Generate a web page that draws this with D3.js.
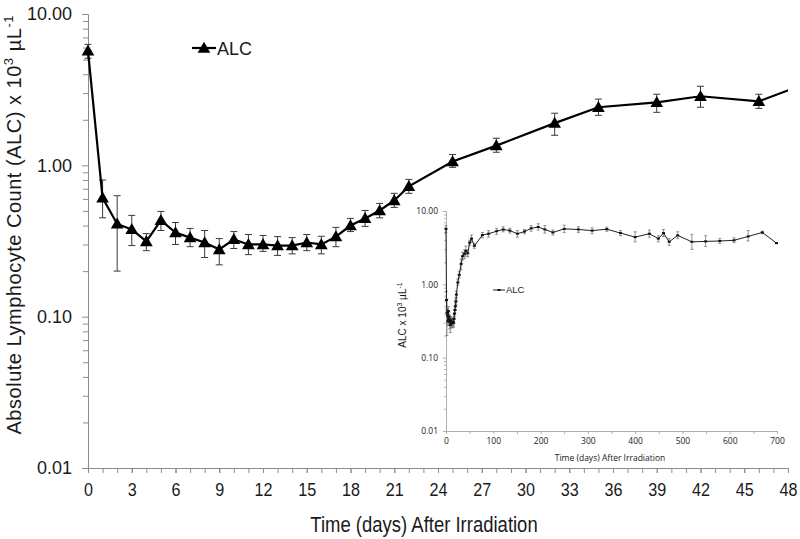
<!DOCTYPE html>
<html><head><meta charset="utf-8">
<script src="https://cdn.jsdelivr.net/npm/d3@7"></script>
<style>
body{margin:0;background:#fff;}
svg{display:block;}
</style></head>
<body>
<svg id="c" width="800" height="539"></svg>
<script>
// ---- data (days after irradiation, ALC x10^3/uL) ----
const days  = [0,1,2,3,4,5,6,7,8,9,10,11,12,13,14,15,16,17,18,19,20,21,22,25,28,32,35,39,42,46,
               50,54,60,77,90,107,121,135,151,166,180,195,209,226,250,280,309,340,369,400,430,449,460,472,490,520,549,579,609,639,669,699];
const alc   = [5.7,0.61,0.41,0.377,0.314,0.433,0.36,0.333,0.309,0.278,0.324,0.30,0.30,0.295,0.295,0.309,0.30,0.338,0.40,0.446,0.503,0.586,0.726,1.06,1.35,1.90,2.42,2.61,2.86,2.65,
               3.7,4.2,3.35,4.7,4.9,5.3,5.6,5.4,4.9,5.25,5.8,6.05,5.6,5.1,5.7,5.6,5.4,5.65,5.0,4.4,4.9,4.2,5.0,3.8,4.65,3.8,3.85,3.9,3.98,4.5,5.1,3.65];
const alcLo = [5.1,0.45,0.20,0.295,0.273,0.371,0.30,0.29,0.246,0.22,0.282,0.257,0.27,0.254,0.26,0.273,0.26,0.29,0.365,0.395,0.45,0.527,0.653,0.97,1.22,1.58,2.14,2.24,2.42,2.38,
               3.4,3.8,3.1,4.3,4.4,4.8,5.2,5.0,4.4,4.9,5.3,5.5,5.0,4.7,5.1,5.1,4.9,5.3,4.6,3.8,4.4,3.8,4.5,3.4,4.2,3.0,3.3,3.6,3.7,3.9,4.9,3.6];
const alcHi = [6.3,0.80,0.63,0.467,0.354,0.496,0.419,0.383,0.371,0.328,0.365,0.349,0.344,0.338,0.333,0.349,0.34,0.389,0.446,0.503,0.56,0.653,0.808,1.18,1.51,2.21,2.74,2.95,3.33,2.95,
               4.0,4.7,3.6,5.1,5.4,5.8,6.1,5.8,5.4,5.6,6.3,6.7,6.3,5.5,6.4,6.1,5.9,6.0,5.4,5.2,5.5,4.6,5.6,4.2,5.2,4.8,4.6,4.2,4.3,5.4,5.3,3.7];
const yTicks = [0.01,0.1,1,10];
const mainXTicks = [0,3,6,9,12,15,18,21,24,27,30,33,36,39,42,45,48];
const insetXTicks = [0,100,200,300,400,500,600,700];

const data = days.map((d,i)=>({d, v:alc[i], lo:alcLo[i], hi:alcHi[i]}));
const svg = d3.select('#c');
const axisCol = '#8c8c8c';
const txtCol = '#1a1a1a';
const sans = '"Liberation Sans",Arial,sans-serif';

function minorTicks(){
  const out=[]; yTicks.slice(0,-1).forEach(t=>{for(let k=2;k<=9;k++) out.push(t*k);}); return out;
}

// ===== MAIN CHART =====
const x = d3.scaleLinear().domain([0,48]).range([88,788]);
const y = d3.scaleLog().domain([0.01,10]).range([468,14]);

svg.append('defs').append('clipPath').attr('id','mclip')
  .append('rect').attr('x',80).attr('y',0).attr('width',708).attr('height',470);

const gy = svg.append('g').attr('transform','translate(88,0)')
  .call(d3.axisLeft(y).tickValues(yTicks).tickFormat(d3.format('.2f')).tickSize(6).tickPadding(10));
svg.append('g').attr('transform','translate(88,0)')
  .call(d3.axisLeft(y).tickValues(minorTicks()).tickFormat('').tickSize(5))
  .call(g=>g.select('.domain').remove());
svg.append('g').attr('transform','translate(0,468)')
  .call(d3.axisBottom(x).tickValues(d3.range(0,49)).tickFormat('').tickSize(5));
const gx = svg.append('g').attr('transform','translate(0,468)')
  .call(d3.axisBottom(x).tickValues(mainXTicks).tickFormat(d3.format('d')).tickSize(5).tickPadding(10))
  .call(g=>g.select('.domain').remove());
gx.selectAll('text').attr('font-family',sans).attr('font-size',19).attr('transform','scale(0.85,1)');
svg.selectAll('.domain, .tick line').attr('stroke',axisCol);
gy.selectAll('text').attr('font-family',sans).attr('font-size',18);
svg.selectAll('.tick text').attr('fill',txtCol);

// main axis titles
svg.append('text').attr('transform','translate(424,532) scale(0.86,1)').attr('text-anchor','middle')
  .attr('font-family',sans).attr('font-size',21.5).attr('fill',txtCol)
  .text('Time (days) After Irradiation');
const yl = svg.append('text').attr('transform','translate(21,225) rotate(-90)').attr('text-anchor','middle')
  .attr('font-family',sans).attr('font-size',20).attr('fill',txtCol)
  .attr('textLength',419).attr('lengthAdjust','spacing');
yl.append('tspan').text('Absolute Lymphocyte Count (ALC) x 10');
yl.append('tspan').attr('dy',-8).attr('font-size',13).text('3');
yl.append('tspan').attr('dy',8).text(' µL');
yl.append('tspan').attr('dy',-8).attr('font-size',13).text('-1');

const plot = svg.append('g').attr('clip-path','url(#mclip)');
// error bars
const eb = plot.append('g').attr('stroke','#3a3a3a').attr('stroke-width',1);
data.forEach(p=>{
  const cx=x(p.d);
  eb.append('line').attr('x1',cx).attr('x2',cx).attr('y1',y(p.lo)).attr('y2',y(p.hi));
  eb.append('line').attr('x1',cx-3.5).attr('x2',cx+3.5).attr('y1',y(p.lo)).attr('y2',y(p.lo));
  eb.append('line').attr('x1',cx-3.5).attr('x2',cx+3.5).attr('y1',y(p.hi)).attr('y2',y(p.hi));
});
plot.append('path').datum(data).attr('fill','none').attr('stroke','#000').attr('stroke-width',2.2)
  .attr('d',d3.line().x(p=>x(p.d)).y(p=>y(p.v)));
const tri = d3.symbol().type(d3.symbolTriangle).size(70);
plot.selectAll('.m').data(data).enter().append('path')
  .attr('d',tri).attr('transform',p=>`translate(${x(p.d)},${y(p.v)+1})`).attr('fill','#000');

// legend
svg.append('line').attr('x1',192).attr('x2',216).attr('y1',48).attr('y2',48).attr('stroke','#000').attr('stroke-width',2.2);
svg.append('path').attr('d',tri).attr('transform','translate(204,49)').attr('fill','#000');
svg.append('text').attr('x',217).attr('y',55).attr('font-family',sans)
  .attr('font-size',18).attr('fill',txtCol).text('ALC');

// ===== INSET =====
const xi = d3.scaleLinear().domain([0,700]).range([446,777]);
const yi = d3.scaleLog().domain([0.01,10]).range([431,211]);
const insetFont = '"Open Sans","Liberation Sans",sans-serif';
const iy = svg.append('g').attr('transform','translate(446,0)')
  .call(d3.axisLeft(yi).tickValues(yTicks).tickFormat(d3.format('.2f')).tickSize(3).tickPadding(5));
svg.append('g').attr('transform','translate(446,0)')
  .call(d3.axisLeft(yi).tickValues(minorTicks()).tickFormat('').tickSize(2))
  .call(g=>g.select('.domain').remove()).selectAll('line').attr('stroke','#b5b5b5');
const ix = svg.append('g').attr('transform','translate(0,431)')
  .call(d3.axisBottom(xi).tickValues(d3.range(0,701,50)).tickFormat(d=>insetXTicks.includes(d)?d:'').tickSize(3).tickPadding(4));
[iy,ix].forEach(g=>{
  g.selectAll('.domain,.tick line').attr('stroke','#b0b0b0');
  g.selectAll('text').attr('font-family',insetFont).attr('font-size',8.5).attr('fill',txtCol);
});
svg.append('text').attr('x',610).attr('y',461).attr('text-anchor','middle')
  .attr('font-family',insetFont).attr('font-size',8.5).attr('fill',txtCol).text('Time (days) After Irradiation');
const iyl = svg.append('text').attr('transform','translate(406,315) rotate(-90)').attr('text-anchor','middle')
  .attr('font-family',sans).attr('font-size',10).attr('fill',txtCol);
iyl.append('tspan').text('ALC x 10');
iyl.append('tspan').attr('dy',-4).attr('font-size',7).text('3');
iyl.append('tspan').attr('dy',4).text(' µL');
iyl.append('tspan').attr('dy',-4).attr('font-size',7).text('-1');

const ieb = svg.append('g').attr('stroke','#777').attr('stroke-width',0.8);
data.forEach(p=>{
  const cx=xi(p.d);
  ieb.append('line').attr('x1',cx).attr('x2',cx).attr('y1',yi(p.lo)).attr('y2',yi(p.hi));
  ieb.append('line').attr('x1',cx-1.5).attr('x2',cx+1.5).attr('y1',yi(p.lo)).attr('y2',yi(p.lo));
  ieb.append('line').attr('x1',cx-1.5).attr('x2',cx+1.5).attr('y1',yi(p.hi)).attr('y2',yi(p.hi));
});
svg.append('path').datum(data).attr('fill','none').attr('stroke','#222').attr('stroke-width',1)
  .attr('d',d3.line().x(p=>xi(p.d)).y(p=>yi(p.v)));
svg.append('g').selectAll('line').data(data).enter().append('line')
  .attr('x1',p=>xi(p.d)-1.5).attr('x2',p=>xi(p.d)+1.5).attr('y1',p=>yi(p.v)).attr('y2',p=>yi(p.v))
  .attr('stroke','#111').attr('stroke-width',2);
// inset legend
svg.append('line').attr('x1',493).attr('x2',505).attr('y1',290).attr('y2',290).attr('stroke','#222').attr('stroke-width',1);
svg.append('line').attr('x1',497.5).attr('x2',500.5).attr('y1',290).attr('y2',290).attr('stroke','#111').attr('stroke-width',2);
svg.append('text').attr('x',506).attr('y',293).attr('font-family',sans).attr('font-size',9.5)
  .attr('fill',txtCol).text('ALC');
</script>
</body></html>
